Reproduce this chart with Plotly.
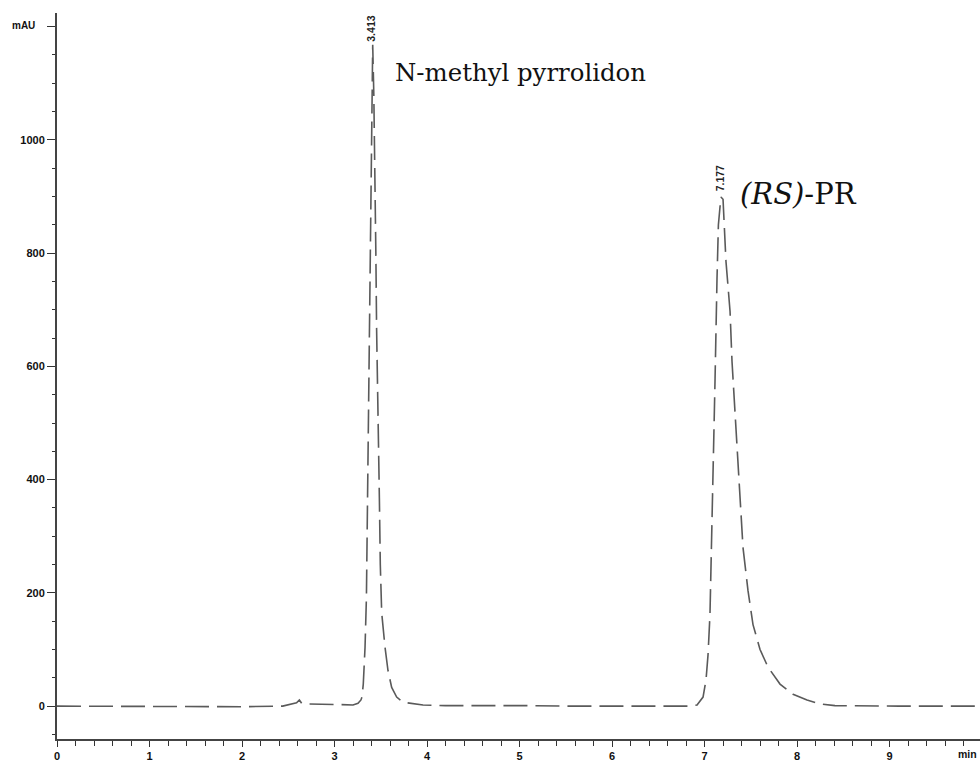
import plotly.graph_objects as go

# Chromatogram trace (time in min, absorbance in mAU)
time_min = [0.0, 1.0, 2.0, 2.44, 2.54, 2.59, 2.62, 2.645, 2.68, 2.75, 3.0, 3.20,
            3.254, 3.286, 3.297, 3.311, 3.330, 3.345, 3.352, 3.362, 3.375, 3.388,
            3.400, 3.413, 3.425, 3.440, 3.447, 3.455, 3.470, 3.485, 3.495, 3.510,
            3.546, 3.578, 3.618, 3.672, 3.741, 3.849, 3.957, 4.2, 4.8, 4.95, 5.05,
            5.5, 6.0, 6.5, 6.85, 6.919, 6.984, 7.016, 7.038, 7.059, 7.081, 7.092,
            7.114, 7.135, 7.150, 7.177, 7.200, 7.232, 7.276, 7.297, 7.330, 7.362,
            7.384, 7.416, 7.470, 7.524, 7.600, 7.686, 7.816, 7.957, 8.108, 8.249,
            8.41, 8.9, 9.0, 9.1, 9.98]
absorbance = [0, -1, -1, 0, 4, 6, 11, 5, 4, 4, 3, 2,
              5, 11, 16, 39, 104, 192, 300, 480, 700, 880,
              1050, 1168, 1080, 930, 800, 667, 540, 368, 250, 165,
              104, 63, 33, 16, 7, 4, 2, 1, 1, 2, 1,
              0, 0, 0, 0, 2, 16, 46, 91, 162, 310, 398,
              579, 755, 850, 899, 895, 785, 697, 609, 521, 438,
              368, 280, 204, 144, 100, 69, 39, 21, 11, 4,
              1, 0, 1, 0, 0]

peak_times = [3.413, 7.177]
peak_labels = ["3.413", "7.177"]
compound_names = ["N-methyl pyrrolidon", "<i>(RS)</i>-PR"]

y_tickvals = [0, 200, 400, 600, 800, 1000, 1200]
y_ticktext = ["0", "200", "400", "600", "800", "1000", ""]
x_tickvals = [0, 1, 2, 3, 4, 5, 6, 7, 8, 9]

tick_font = dict(family="Liberation Sans", size=11, color="#111", weight="bold")

fig = go.Figure()
fig.add_trace(go.Scatter(
    x=time_min, y=absorbance, mode="lines",
    line=dict(color="#5a5a5a", width=1.6, dash="24px,8px"),
    hoverinfo="skip", showlegend=False,
))

# retention-time labels (rotated) above each peak
fig.add_annotation(x=peak_times[0] - 0.02, y=1196, text=peak_labels[0], textangle=-90,
                   showarrow=False,
                   font=dict(family="Liberation Sans", size=10.5, color="#222", weight="bold"))
fig.add_annotation(x=peak_times[1] - 0.01, y=932, text=peak_labels[1], textangle=-90,
                   showarrow=False,
                   font=dict(family="Liberation Sans", size=10.5, color="#222", weight="bold"))
# compound names
fig.add_annotation(x=3.632, y=1119, text=compound_names[0], xanchor="left", yanchor="middle",
                   showarrow=False, font=dict(family="DejaVu Serif", size=24.4, color="#111"))
fig.add_annotation(x=7.362, y=904, text=compound_names[1], xanchor="left", yanchor="middle",
                   showarrow=False, font=dict(family="DejaVu Serif", size=29, color="#111"))
# axis unit labels
fig.add_annotation(xref="paper", yref="y", x=-0.0215, y=1202, text="mAU", xanchor="right",
                   yanchor="middle", showarrow=False,
                   font=dict(family="Liberation Sans", size=10, color="#111", weight="bold"))
fig.add_annotation(xref="paper", yref="paper", x=1, y=0, xshift=-1, yshift=-15, text="min",
                   xanchor="right", yanchor="middle", showarrow=False,
                   font=dict(family="Liberation Sans", size=10.5, color="#111", weight="bold"))

fig.update_layout(
    width=980, height=762,
    margin=dict(l=57, r=0, t=13, b=20),
    paper_bgcolor="white", plot_bgcolor="white",
    xaxis=dict(range=[0, 9.978], tickvals=x_tickvals, ticks="outside", ticklen=6,
               tickwidth=1.2, tickcolor="#333", showgrid=False, zeroline=False,
               showline=True, linecolor="#444", linewidth=2,
               tickfont=tick_font,
               minor=dict(dtick=0.2, tick0=0, ticks="outside", ticklen=5,
                          tickcolor="#333", tickwidth=1.2)),
    yaxis=dict(range=[-58, 1224], tickvals=y_tickvals, ticktext=y_ticktext,
               ticks="outside", ticklen=8, tickwidth=1.2, tickcolor="#333",
               showgrid=False, zeroline=False, showline=True, linecolor="#444",
               linewidth=2,
               tickfont=tick_font,
               minor=dict(dtick=50, tick0=0, ticks="outside", ticklen=3,
                          tickcolor="#333", tickwidth=1.2)),
)

fig.write_html("out.html")
